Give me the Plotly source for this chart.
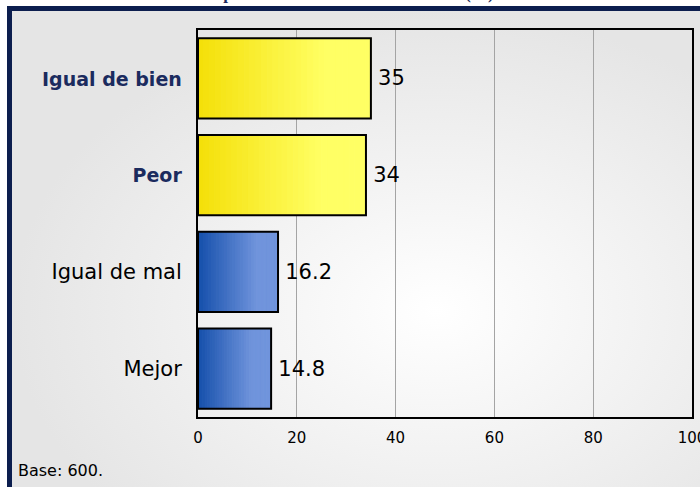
import plotly.graph_objects as go

# ---- data ----
categories = ["Igual de bien", "Peor", "Igual de mal", "Mejor"]
values = [35, 34, 16.2, 14.8]
value_labels = ["35", "34", "16.2", "14.8"]
x_ticks = [0, 20, 40, 60, 80, 100]
title_text = "Situación presente a diferencia de la actual (%)"
note_text = "Base: 600."

W, H = 700, 487

# colour gradients per bar (left -> right)
yellow = ((244, 224, 10), (255, 255, 100))
blue = ((22, 80, 172), (112, 148, 220))
bar_grad = [yellow, yellow, blue, blue]

def mix(c0, c1, t):
    return "rgb(%d,%d,%d)" % tuple(round(a + (b - a) * t) for a, b in zip(c0, c1))

fig = go.Figure()

# background radial gradient on a full-paper helper axis
fig.add_trace(go.Scatter(
    x=[12, 860, 860, 12, 12], y=[11, 11, 610, 610, 11],
    mode="lines", line=dict(width=0), fill="toself",
    fillcolor="#ececec",
    fillgradient=dict(type="radial", colorscale=[[0, "#ffffff"], [1, "#e5e5e5"]]),
    hoverinfo="skip", showlegend=False, xaxis="x", yaxis="y"))

# gradient bars built from stacked segments
N = 30
for j in range(N):
    t = min(1.0, (j / (N - 1)) / 0.75)
    cols = [mix(g[0], g[1], t) for g in bar_grad]
    fig.add_trace(go.Bar(
        x=[v / N for v in values], base=[v * j / N for v in values], y=categories,
        orientation="h", marker=dict(color=cols, line=dict(color=cols, width=1)),
        hoverinfo="skip", showlegend=False, xaxis="x2", yaxis="y2"))

# outline + value labels
fig.add_trace(go.Bar(
    x=values, y=categories, orientation="h",
    marker=dict(color="rgba(0,0,0,0)", line=dict(color="black", width=2)),
    text=value_labels, texttemplate="\u2009%{text}", textposition="outside",
    cliponaxis=False,
    textfont=dict(family="DejaVu Sans", size=21, color="black"),
    hoverinfo="skip", showlegend=False, xaxis="x2", yaxis="y2"))

navy = "#0c1e4e"
ticktext = [
    "<span style='font-size:19px;color:%s'><b>%s</b></span>" % ("#1b2b5e", categories[0]),
    "<span style='font-size:19px;color:%s'><b>%s</b></span>" % ("#1b2b5e", categories[1]),
    categories[2],
    categories[3],
]

fig.update_layout(
    width=W, height=H,
    margin=dict(l=0, r=0, t=0, b=0, pad=0, autoexpand=False),
    paper_bgcolor="white", plot_bgcolor="rgba(0,0,0,0)",
    barmode="overlay", bargap=0.173,
    font=dict(family="DejaVu Sans", color="black"),
    xaxis=dict(domain=[0, 1], range=[0, W], visible=False, fixedrange=True, automargin=False),
    yaxis=dict(domain=[0, 1], range=[H, 0], visible=False, fixedrange=True, automargin=False),
    xaxis2=dict(domain=[198 / W, 692 / W], anchor="y2", range=[0, 100],
                tickvals=x_ticks, ticks="", showgrid=True, gridcolor="#a4a4a4",
                gridwidth=1, zeroline=False, showline=True, mirror=True,
                linecolor="black", linewidth=2, ticklabelstandoff=6,
                ticklabeloverflow="allow", automargin=False, fixedrange=True,
                tickfont=dict(size=15, color="black")),
    yaxis2=dict(domain=[70 / H, 457 / H], anchor="x2", categoryorder="array",
                categoryarray=categories, autorange="reversed",
                tickvals=categories, ticktext=ticktext, ticks="",
                showgrid=False, zeroline=False, showline=True, mirror=True,
                linecolor="black", linewidth=2, ticklabelstandoff=10,
                automargin=False, fixedrange=True,
                tickfont=dict(size=21, color="black")),
    shapes=[
        dict(type="rect", xref="paper", yref="paper", x0=7 / W, x1=12 / W,
             y0=-0.01, y1=(H - 6) / H, fillcolor=navy, line=dict(width=0), layer="above"),
        dict(type="rect", xref="paper", yref="paper", x0=7 / W, x1=1.01,
             y0=(H - 11) / H, y1=(H - 6) / H, fillcolor=navy, line=dict(width=0), layer="above"),
    ],
    annotations=[
        dict(text="<b>" + title_text + "</b>", xref="paper", yref="paper",
             x=322 / W, y=(H - 5) / H, xanchor="center", yanchor="bottom",
             showarrow=False, font=dict(family="Liberation Serif", size=17, color="#1b2b5e")),
        dict(text=note_text, xref="paper", yref="paper", x=16 / W, y=(H - 470) / H,
             xanchor="left", yanchor="middle", showarrow=False,
             font=dict(family="DejaVu Sans", size=16, color="black")),
    ],
)

fig.write_html("out.html", config={"displayModeBar": False, "responsive": False},
               post_script="document.body.style.margin='0';document.body.style.padding='0';")
